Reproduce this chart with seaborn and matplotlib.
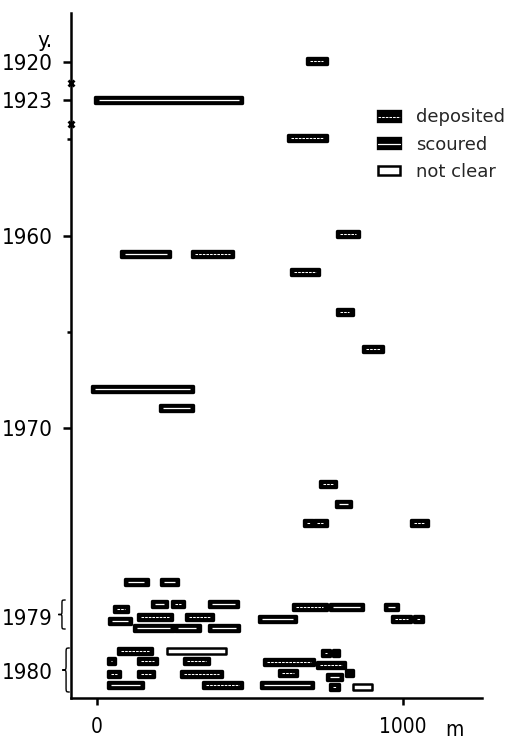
import matplotlib
matplotlib.use("Agg")
import matplotlib.pyplot as plt
import matplotlib.transforms as mtransforms
from matplotlib.patches import Patch, PathPatch
from matplotlib.path import Path
from matplotlib.lines import Line2D
from matplotlib.legend_handler import HandlerTuple
import pandas as pd
import seaborn as sns

# ---- time axis (broken scale, read top to bottom) ----
tick_pos = [5.0, 8.8, 22.4, 41.6, 60.5, 65.9]
tick_labels = ["1920", "1923", "1960", "1970", "1979", "1980"]
bracket_half = {"1979": 1.45, "1980": 2.2}   # extent of the bracketed years
break_pos = [7.1, 11.2]                      # axis-break marks
minor_pos = [12.7, 32.0]

x_ticks = [0, 1000]

# ---- river reaches: start (m), end (m), position on time axis, kind ----
x_start = [685, -5, 625, 80, 310, 785, 635, 785, 870, -15, 205,
           730, 780, 675, 710, 1025,
           90, 210, 180, 245, 365, 55, 135, 290, 40, 120, 255, 365,
           640, 760, 940, 530, 965, 1035,
           70, 230, 35, 135, 285, 35, 135, 275, 35, 345,
           735, 770, 545, 720, 595, 815, 750, 535, 760, 835]
x_end = [750, 475, 750, 240, 445, 855, 725, 835, 935, 315, 315,
         780, 830, 705, 750, 1080,
         165, 265, 230, 285, 460, 100, 245, 380, 110, 250, 335, 465,
         750, 870, 985, 650, 1025, 1065,
         180, 420, 60, 195, 365, 75, 185, 410, 150, 475,
         760, 790, 710, 810, 655, 835, 800, 705, 790, 900]
t_pos = [4.9, 8.8, 12.6, 24.2, 24.2, 22.2, 26.0, 30.0, 33.7, 37.7, 39.6,
         47.2, 49.2, 51.1, 51.1, 51.1,
         57.0, 57.0, 59.2, 59.2, 59.2, 59.7, 60.5, 60.5, 60.9, 61.6, 61.6, 61.6,
         59.5, 59.5, 59.5, 60.7, 60.7, 60.7,
         63.9, 63.9, 64.9, 64.9, 64.9, 66.2, 66.2, 66.2, 67.3, 67.3,
         64.1, 64.1, 65.0, 65.3, 66.1, 66.1, 66.5, 67.3, 67.5, 67.5]
kind = ["deposited", "scoured", "deposited", "scoured", "deposited", "deposited",
        "deposited", "deposited", "deposited", "scoured", "scoured",
        "deposited", "scoured", "deposited", "deposited", "deposited",
        "scoured", "scoured", "scoured", "deposited", "scoured", "deposited",
        "deposited", "deposited", "scoured", "scoured", "scoured", "scoured",
        "deposited", "scoured", "scoured", "scoured", "deposited", "deposited",
        "deposited", "not clear", "deposited", "deposited", "deposited",
        "deposited", "deposited", "deposited", "scoured", "deposited",
        "deposited", "deposited", "deposited", "deposited", "deposited",
        "deposited", "scoured", "scoured", "deposited", "not clear"]

reaches = pd.DataFrame({"start": x_start, "end": x_end, "t": t_pos, "kind": kind})

sns.set_theme(style="ticks")
plt.rcParams["font.family"] = ["Liberation Sans", "DejaVu Sans"]

fig = plt.figure(figsize=(5.13, 7.39), dpi=100)
ax = fig.add_axes([71 / 513, 41 / 739, 411 / 513, 685 / 739])

styles = {
    "deposited": dict(face="black", inner=(0, (2.5, 1.0)), inner_lw=0.75, edge_lw=2.4),
    "scoured": dict(face="black", inner="-", inner_lw=0.9, edge_lw=2.4),
    "not clear": dict(face="white", inner=None, inner_lw=0, edge_lw=1.8),
}

bar_h = 0.62
inset = 10
for k, st in styles.items():
    sub = reaches[reaches["kind"] == k]
    bars = ax.barh(sub["t"], sub["end"] - sub["start"], left=sub["start"],
                   height=bar_h, color=st["face"], edgecolor="black",
                   linewidth=st["edge_lw"], zorder=3)
    for p in bars.patches:
        p.set_joinstyle("round")
    if st["inner"] is not None:
        ax.hlines(sub["t"], sub["start"] + inset, sub["end"] - inset,
                  colors="white", linewidth=st["inner_lw"],
                  linestyles=[st["inner"]], zorder=4)

ax.set_xlim(-85, 1258)
ax.set_ylim(68.6, 0.1)

sns.despine(ax=ax)
for s in ("left", "bottom"):
    ax.spines[s].set_linewidth(1.8)
    ax.spines[s].set_color("black")

ax.set_yticks(tick_pos)
ax.set_yticklabels(tick_labels)
ax.set_yticks(minor_pos, minor=True)
ax.tick_params(axis="y", which="major", length=5.8, width=1.8, pad=7.5,
               labelsize=16, colors="black")
ax.tick_params(axis="y", which="minor", length=3, width=1.8, colors="black")
for lab in ax.get_yticklabels():
    lab.set_fontfamily("DejaVu Sans")
    lab.set_fontstretch("condensed")
for i, lab in enumerate(tick_labels):
    if lab in bracket_half:
        ax.yaxis.get_major_ticks()[i].tick1line.set_visible(False)

ax.set_xticks(x_ticks)
ax.set_xticklabels([str(v) for v in x_ticks])
ax.tick_params(axis="x", length=5, width=1.8, pad=8.5, labelsize=15,
               colors="black")
for lab in ax.get_xticklabels():
    lab.set_fontfamily("DejaVu Sans")
    lab.set_fontstretch("condensed")

blend = mtransforms.blended_transform_factory(ax.transAxes, ax.transData)

# axis-break marks on the time axis
ax.plot([0] * len(break_pos), break_pos, linestyle="none", marker="x",
        markersize=5, markeredgewidth=2, color="black", transform=blend,
        clip_on=False, zorder=5)

# brackets grouping the 1979 and 1980 surveys
def brace(center, half, xc=-0.022, w=0.009):
    y0, y1 = center - half, center + half
    q = min(0.5, half * 0.25)
    verts = [(xc + w, y0), (xc, y0), (xc, y0), (xc, y0 + q),
             (xc, center - q),
             (xc, center), (xc, center), (xc - w, center),
             (xc, center), (xc, center), (xc, center + q),
             (xc, y1 - q),
             (xc, y1), (xc, y1), (xc + w, y1)]
    codes = [Path.MOVETO, Path.CURVE4, Path.CURVE4, Path.CURVE4,
             Path.LINETO,
             Path.CURVE4, Path.CURVE4, Path.CURVE4,
             Path.CURVE4, Path.CURVE4, Path.CURVE4,
             Path.LINETO,
             Path.CURVE4, Path.CURVE4, Path.CURVE4]
    ax.add_patch(PathPatch(Path(verts, codes), facecolor="none",
                           edgecolor="black", linewidth=1.0,
                           transform=blend, clip_on=False))

brace(60.25, bracket_half["1979"], xc=-0.022)
brace(65.8, bracket_half["1980"], xc=-0.012)

ax.text(-0.063, 0.959, "y.", transform=ax.transAxes, fontsize=16,
        ha="center", va="center", color="black",
        family="DejaVu Sans", stretch="condensed")
ax.text(0.934, -0.046, "m", transform=ax.transAxes, fontsize=15,
        ha="center", va="center", color="black",
        family="DejaVu Sans", stretch="condensed")

# legend
def handle(k):
    st = styles[k]
    box = Patch(facecolor=st["face"], edgecolor="black",
                linewidth=st["edge_lw"], joinstyle="round")
    if st["inner"] is None:
        return box
    line = Line2D([0], [0], color="white", linewidth=st["inner_lw"],
                  linestyle=st["inner"])
    return (box, line)

leg = ax.legend([handle(k) for k in styles], list(styles),
                handler_map={tuple: HandlerTuple(ndivide=1, pad=0)},
                loc="upper left", bbox_to_anchor=(0.747, 0.861),
                frameon=False, borderpad=0, borderaxespad=0,
                handlelength=1.2, handleheight=0.45, handletextpad=0.9,
                labelspacing=0.52, prop={"family": "DejaVu Sans", "size": 13})

fig.savefig("out.png", dpi=100, facecolor="white")
